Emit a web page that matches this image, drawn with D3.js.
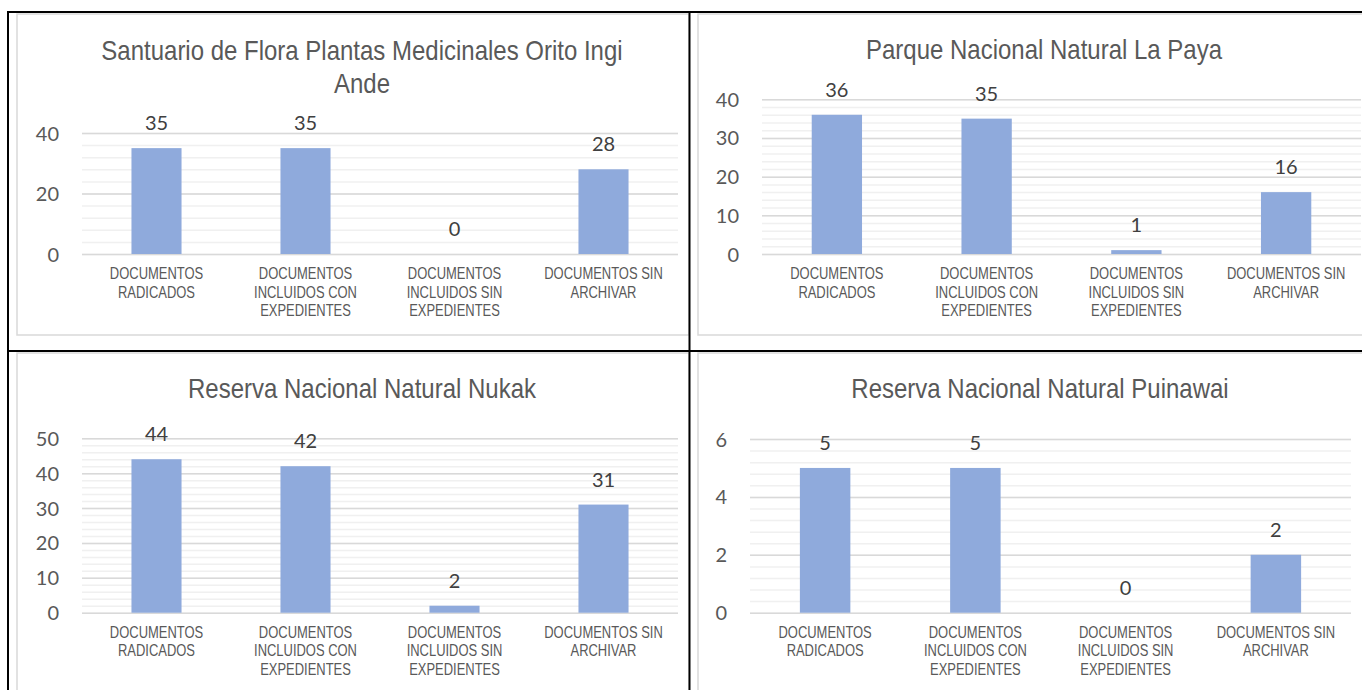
<!DOCTYPE html>
<html>
<head>
<meta charset="utf-8">
<script src="https://cdn.jsdelivr.net/npm/d3@7"></script>
<style>
body { margin: 0; background: #fff; }
svg { display: block; }
</style>
</head>
<body>
<script>
var width = 1362, height = 690;

// chart data
var categories = [
  ["DOCUMENTOS", "RADICADOS"],
  ["DOCUMENTOS", "INCLUIDOS CON", "EXPEDIENTES"],
  ["DOCUMENTOS", "INCLUIDOS SIN", "EXPEDIENTES"],
  ["DOCUMENTOS SIN", "ARCHIVAR"]
];
var titles = [
  ["Santuario de Flora Plantas Medicinales Orito Ingi", "Ande"],
  ["Parque Nacional Natural La Paya"],
  ["Reserva Nacional Natural Nukak"],
  ["Reserva Nacional Natural Puinawai"]
];
var oritoValues = [35, 35, 0, 28];
var payaValues = [36, 35, 1, 16];
var nukakValues = [44, 42, 2, 31];
var puinawaiValues = [5, 5, 0, 2];
var axisMax = [40, 40, 50, 6];
var majorStep = [20, 10, 10, 2];
var minorStep = [4, 2, 2, 0.4];

// where each chart sits inside the table cells
var panels = [
  {box: [17, 14, 689, 335], plot: [82, 678, 133, 254], title: [362, 60], values: oritoValues},
  {box: [698, 14, 1375, 335], plot: [762, 1361, 99.3, 254], title: [1044, 59], values: payaValues},
  {box: [17, 353, 689, 700], plot: [82, 678, 438.3, 612.7], title: [362, 398], values: nukakValues},
  {box: [698, 353, 1375, 700], plot: [750, 1351, 439, 612.7], title: [1040, 398], values: puinawaiValues}
];

var svg = d3.select("body").append("svg").attr("width", width).attr("height", height);
svg.append("rect").attr("width", width).attr("height", height).attr("fill", "#fff");

panels.forEach(function(p, i) {
  var g = svg.append("g");

  //chart frame
  g.append("rect")
    .attr("x", p.box[0]).attr("y", p.box[1])
    .attr("width", p.box[2] - p.box[0]).attr("height", p.box[3] - p.box[1])
    .attr("fill", "#fff").attr("stroke", "#d9d9d9").attr("stroke-width", 1.5);

  //title, condensed sans like the original
  titles[i].forEach(function(line, j) {
    g.append("text")
      .attr("transform", "translate(" + p.title[0] + "," + (p.title[1] + j * 33) + ") scale(0.857,1)")
      .attr("text-anchor", "middle")
      .attr("font-family", "Liberation Sans, Arial, sans-serif")
      .attr("font-size", 28)
      .attr("fill", "#595959")
      .text(line);
  });

  var x = d3.scaleBand()
    .domain(d3.range(categories.length))
    .range([p.plot[0], p.plot[1]])
    .paddingInner(0.664).paddingOuter(0.332);

  var y = d3.scaleLinear().domain([0, axisMax[i]]).range([p.plot[3], p.plot[2]]);
  var w = p.plot[1] - p.plot[0];

  //minor gridlines
  var minorTicks = d3.range(0, axisMax[i] + minorStep[i] / 2, minorStep[i]);
  var minor = g.append("g").attr("transform", "translate(" + p.plot[0] + ",0)")
    .call(d3.axisLeft(y).tickValues(minorTicks).tickSize(-w).tickFormat(""));
  minor.select(".domain").remove();
  minor.selectAll("line").attr("stroke", "#f0f0f0").attr("stroke-width", 1.5);

  //major gridlines + labels
  var majorTicks = d3.range(0, axisMax[i] + majorStep[i] / 2, majorStep[i]);
  var major = g.append("g").attr("transform", "translate(" + p.plot[0] + ",0)")
    .call(d3.axisLeft(y).tickValues(majorTicks).tickSize(-w).tickPadding(23).tickFormat(d3.format("d")));
  major.select(".domain").remove();
  major.selectAll("line").attr("stroke", "#d9d9d9").attr("stroke-width", 1.5);
  major.selectAll("text")
    .attr("font-family", "Lato, sans-serif").attr("font-size", 20)
    .attr("fill", "#595959").attr("dy", "0.35em");

  //bars
  g.selectAll(".bar").data(p.values).enter().append("rect")
    .attr("x", function(d, k) { return x(k); })
    .attr("y", function(d) { return y(d); })
    .attr("width", x.bandwidth())
    .attr("height", function(d) { return y(0) - y(d); })
    .attr("fill", "#8faadc");

  //data labels
  g.selectAll(".lbl").data(p.values).enter().append("text")
    .attr("x", function(d, k) { return x(k) + x.bandwidth() / 2; })
    .attr("y", function(d) { return y(d) - 18; })
    .attr("text-anchor", "middle")
    .attr("font-family", "Lato, sans-serif").attr("font-size", 20)
    .attr("fill", "#404040")
    .text(function(d) { return d; });

  //category labels
  categories.forEach(function(lines, k) {
    var cx = x(k) + x.bandwidth() / 2;
    lines.forEach(function(line, j) {
      g.append("text")
        .attr("transform", "translate(" + cx + "," + (p.plot[3] + 25 + j * 18.5) + ") scale(0.81,1)")
        .attr("text-anchor", "middle")
        .attr("font-family", "Liberation Sans, Arial, sans-serif")
        .attr("font-size", 16)
        .attr("fill", "#595959")
        .text(line);
    });
  });
});

//black table rules on top
var rules = [[8, 11, 8, 690], [7, 12, 1362, 12], [689.5, 11, 689.5, 690], [7, 351, 1362, 351]];
svg.selectAll(".rule").data(rules).enter().append("line")
  .attr("x1", function(d) { return d[0]; }).attr("y1", function(d) { return d[1]; })
  .attr("x2", function(d) { return d[2]; }).attr("y2", function(d) { return d[3]; })
  .attr("stroke", "#000").attr("stroke-width", 2);
</script>
</body>
</html>
